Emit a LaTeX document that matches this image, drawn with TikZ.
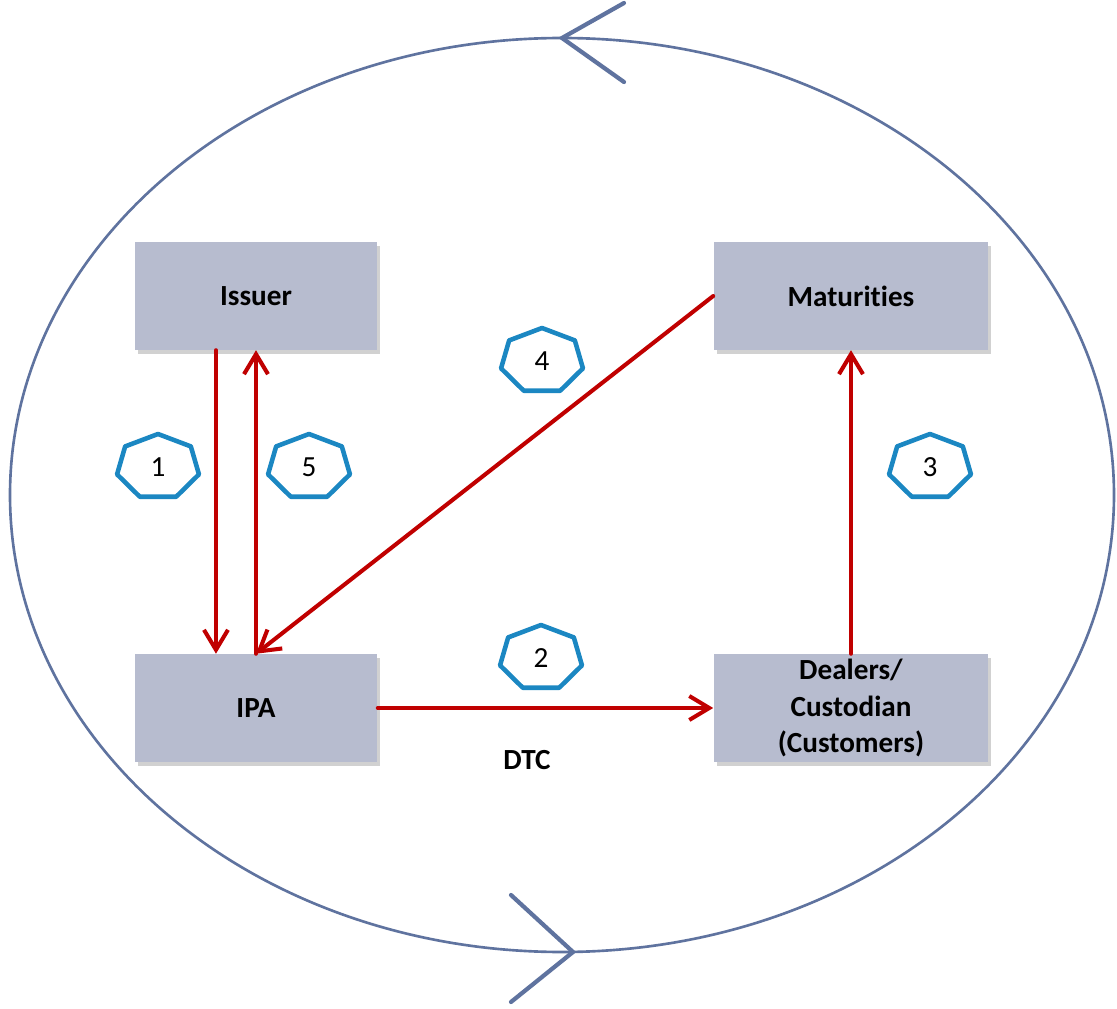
\documentclass[tikz,border=0pt]{standalone}
\usepackage{fontspec}
\setmainfont{Carlito}[Ligatures=NoCommon]
\usetikzlibrary{arrows.meta,shadows}
\definecolor{boxgray}{HTML}{B7BCCF}
\definecolor{flowred}{HTML}{C00000}
\definecolor{heptblue}{HTML}{1B87C2}
\definecolor{ringblue}{HTML}{5F739F}
\tikzset{
  party/.style={fill=boxgray, minimum width=2.42cm, minimum height=1.07cm, align=center,
    font=\fontsize{8.3}{10.5}\selectfont\bfseries,
    drop shadow={shadow xshift=0.3mm, shadow yshift=-0.4mm, fill=black, opacity=0.18}},
  flow/.style={draw=flowred, line width=1.15pt, -{Straight Barb[length=2mm, width=2.4mm]}},
  num/.style={font=\fontsize{8.3}{9}\selectfont, inner sep=0pt},
  hept/.style={draw=heptblue, line width=1.3pt, line join=round},
}
\begin{document}
\begin{tikzpicture}[x=0.01cm, y=-0.01cm, line cap=round]
  \useasboundingbox (0,0) rectangle (1117,1009);
  % outer cycle
  \draw[ringblue, line width=0.75pt] (562,495) ellipse [x radius=552, y radius=457];
  \draw[ringblue, line width=1.2pt] (624,3) -- (562,38) -- (624,82);
  \draw[ringblue, line width=1.2pt] (511,895) -- (573,952) -- (511,1002);
  % parties
  \node[party] (issuer) at (256,296) {Issuer};
  \node[party, minimum width=2.74cm] (mat) at (851,296) {Maturities};
  \node[party] (ipa) at (256,708) {IPA};
  \node[party, minimum width=2.74cm, inner sep=0pt] (dealer) at (851,708) {Dealers/\\Custodian\\(Customers)};
  \node[font=\fontsize{8.3}{9}\selectfont\bfseries] (dtc) at (527,760) {DTC};
  % flows
  \draw[flow] ([xshift=-4mm]issuer.south) -- ([xshift=-4mm]ipa.north);
  \draw[flow] (ipa.north) -- (issuer.south);
  \draw[flow] (mat.west) -- (ipa.north);
  \draw[flow] (ipa.east) -- (dealer.west);
  \draw[flow] (dealer.north) -- (mat.south);
  % step numbers
  \foreach \n/\x/\y in {1/158/467,5/309/467,4/542/361,3/930/467,2/541/658}{
    \node[num] (n\n) at (\x,\y) {\n};
    \draw[hept, shift={(n\n)}] (270:42 and 33) \foreach \k in {1,...,6}{ -- (270+\k*360/7:42 and 33)} -- cycle;
  }
\end{tikzpicture}
\end{document}
